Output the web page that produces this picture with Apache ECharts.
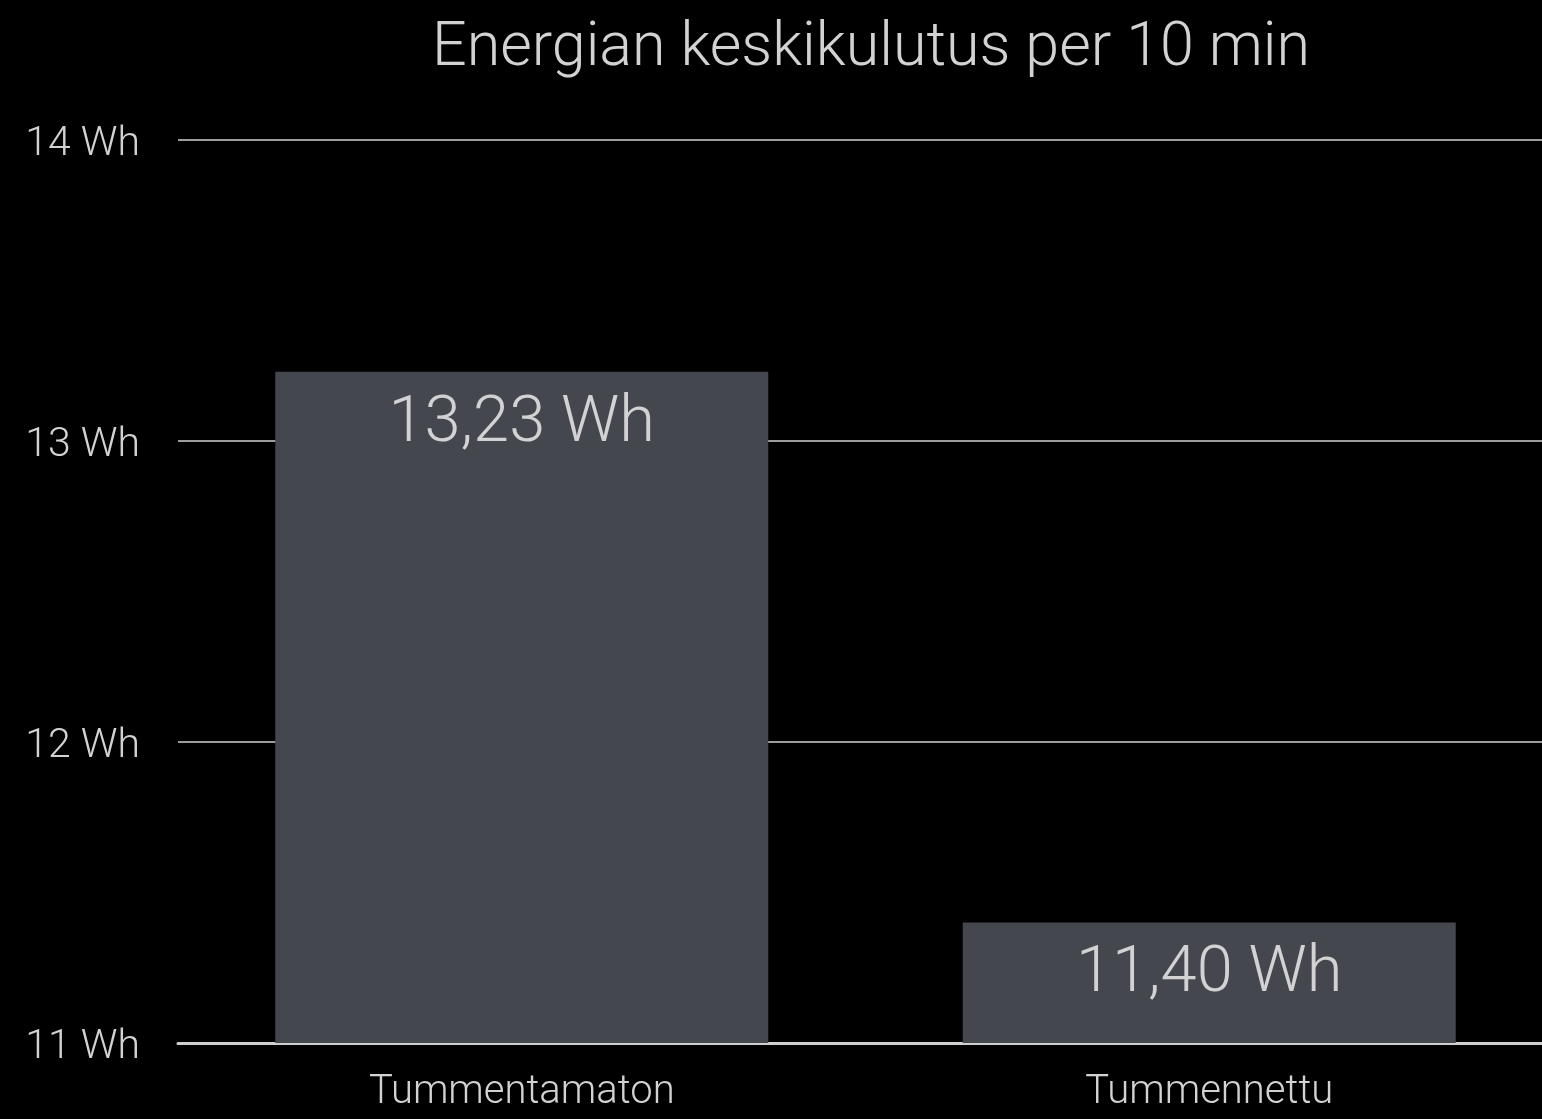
<!DOCTYPE html>
<html>
<head>
<meta charset="utf-8">
<script src="https://cdn.jsdelivr.net/npm/echarts@6/dist/echarts.min.js"></script>
<style>
  html, body { margin: 0; padding: 0; background: #000; }
  #chart { width: 1542px; height: 1119px; }
</style>
</head>
<body>
<div id="chart"></div>
<script>
const categories = [ "Tummentamaton", "Tummennettu" ];
const values = [ 13.23, 11.40 ];
const yTicks = [ 11, 12, 13, 14 ];

const textColor = "#d2d2d2";
const font = "Roboto";

const chart = echarts.init( document.getElementById( "chart" ) );

chart.setOption( {
	backgroundColor: "#000000",
	title: {
		text: "Energian keskikulutus per 10 min",
		left: 866,
		textAlign: "center",
		top: 14,
		textStyle: {
			color: textColor,
			fontFamily: font,
			fontWeight: 300,
			fontSize: 61
		}
	},
	grid: {
		left: 178,
		width: 1375,
		top: 140,
		bottom: 76,
		outerBoundsMode: "none",
		containLabel: false
	},
	xAxis: {
		type: "category",
		data: categories,
		axisLine: { show: true, lineStyle: { color: "#cfcfcf", width: 3 } },
		axisTick: { show: false },
		axisLabel: {
			color: textColor,
			fontFamily: font,
			fontWeight: 300,
			fontSize: 40,
			margin: 30
		}
	},
	yAxis: {
		type: "value",
		min: yTicks[0],
		max: yTicks[yTicks.length - 1],
		interval: 1,
		axisLine: { show: false },
		axisTick: { show: false },
		splitLine: { lineStyle: { color: "#9c9c9c", width: 2 } },
		axisLabel: {
			margin: 38,
			formatter: v => "{a|" + v + " Wh}",
			rich: {
				a: {
					color: textColor,
					fontFamily: font,
					fontWeight: 300,
					fontSize: 41,
					padding: [ 10, 0, 0, 0 ]
				}
			}
		}
	},
	series: [ {
		type: "bar",
		data: values,
		barWidth: 493,
		itemStyle: { color: "#45474f" },
		label: {
			show: true,
			position: "insideTop",
			distance: 20,
			color: textColor,
			fontFamily: font,
			fontWeight: 300,
			fontSize: 65,
			formatter: p => p.value.toFixed( 2 ).replace( ".", "," ) + " Wh"
		}
	} ]
} );
</script>
</body>
</html>
